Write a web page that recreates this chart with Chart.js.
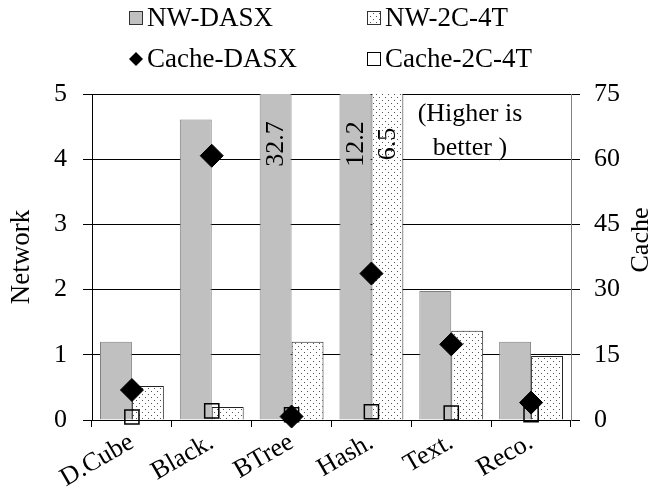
<!DOCTYPE html>
<html lang="en">
<head>
<meta charset="UTF-8" />
<title>Network and Cache</title>
<script src="https://cdn.jsdelivr.net/npm/chart.js"></script>
<style>
  body { margin: 0; background: #fff; }
  #wrap { width: 664px; height: 489px; }
</style>
</head>
<body>
<div id="wrap"><canvas id="chartNW" width="664" height="489"></canvas></div>
<script>
const categories = ["D.Cube", "Black.", "BTree", "Hash.", "Text.", "Reco."];
const nwDasx = [1.2, 4.61, 32.7, 12.2, 1.98, 1.2];
const nw2c4t = [0.52, 0.2, 1.2, 6.5, 1.37, 0.98];
const cacheDasx = [6.9, 60.8, 0.8, 33.7, 17.4, 4.0];
const cache2c4t = [0.7, 2.1, 1.2, 1.9, 1.6, 1.2];
const networkTicks = [0, 1, 2, 3, 4, 5];
const cacheTicks = [0, 15, 30, 45, 60, 75];
const noteLines = ["(Higher is", "better )"];

const FONT = "'Liberation Serif', 'Times New Roman', serif";

const canvas = document.getElementById("chartNW");
const ctx = canvas.getContext("2d");

// dotted fill for the 2C-4T bars
function makeDots() {
  const t = document.createElement("canvas");
  t.width = 6; t.height = 6;
  const g = t.getContext("2d");
  g.fillStyle = "#fff";
  g.fillRect(0, 0, 6, 6);
  g.fillStyle = "#555";
  g.fillRect(1, 1, 1, 1);
  g.fillRect(4, 4, 1, 1);
  return ctx.createPattern(t, "repeat");
}
const dots = makeDots();

// legend, clipped-bar labels, note and right axis title
const extras = {
  id: "extras",
  afterDraw(chart) {
    const c = chart.ctx;
    const area = chart.chartArea;
    const yNet = chart.scales.yNet;
    c.save();
    c.fillStyle = "#000";

    // values of bars cut off by the axis
    c.font = "26px " + FONT;
    c.textAlign = "center";
    c.textBaseline = "middle";
    [0, 1].forEach(di => {
      const meta = chart.getDatasetMeta(di);
      chart.data.datasets[di].data.forEach((v, i) => {
        if (v > yNet.max) {
          const bar = meta.data[i];
          c.save();
          c.translate(bar.x, area.top + 50);
          c.rotate(-Math.PI / 2);
          c.fillText(v.toFixed(1), 0, 1);
          c.restore();
        }
      });
    });

    // note
    c.fillText(noteLines[0], 470, 114);
    c.fillText(noteLines[1], 470, 148);

    // right title
    c.save();
    c.translate(641, 240);
    c.rotate(-Math.PI / 2);
    c.fillText("Cache", 0, 0);
    c.restore();

    // legend, two columns
    const colX = [129, 367];
    const rowY = [18, 59];
    c.font = "27px " + FONT;
    c.textAlign = "left";
    chart.data.datasets.forEach((ds, i) => {
      const x = colX[i % 2];
      const y = rowY[Math.floor(i / 2)];
      c.lineWidth = 1;
      if (ds.type === "bar") {
        c.fillStyle = ds.backgroundColor;
        c.fillRect(x, y - 7, 14, 14);
        c.strokeStyle = "#333";
        c.strokeRect(x + 0.5, y - 6.5, 13, 13);
      } else if (ds.pointStyle === "rectRot") {
        c.fillStyle = "#000";
        c.beginPath();
        c.moveTo(x + 7, y - 7);
        c.lineTo(x + 14, y);
        c.lineTo(x + 7, y + 7);
        c.lineTo(x, y);
        c.closePath();
        c.fill();
      } else {
        c.strokeStyle = "#000";
        c.strokeRect(x + 0.5, y - 6.5, 13, 13);
      }
      c.fillStyle = "#000";
      c.fillText(ds.label, x + 18, y + 1);
    });
    c.restore();
  }
};

new Chart(ctx, {
  data: {
    labels: categories,
    datasets: [
      {
        type: "bar", label: "NW-DASX", data: nwDasx, yAxisID: "yNet",
        backgroundColor: "#c0c0c0", borderColor: "#808080", borderWidth: 1,
        categoryPercentage: 0.8, barPercentage: 1.0, order: 1
      },
      {
        type: "bar", label: "NW-2C-4T", data: nw2c4t, yAxisID: "yNet",
        backgroundColor: dots, borderColor: "#222", borderWidth: 1,
        categoryPercentage: 0.8, barPercentage: 1.0, order: 1
      },
      {
        type: "line", label: "Cache-DASX", data: cacheDasx, yAxisID: "yCache",
        showLine: false, pointStyle: "rectRot", pointRadius: 11.5, pointHoverRadius: 11.5,
        backgroundColor: "#000", borderColor: "#000", pointBorderWidth: 1,
        clip: false, order: 0
      },
      {
        type: "line", label: "Cache-2C-4T", data: cache2c4t, yAxisID: "yCache",
        showLine: false, pointStyle: "rect", pointRadius: 10, pointHoverRadius: 10,
        backgroundColor: "rgba(0,0,0,0)", borderColor: "#000", pointBorderWidth: 1.5,
        clip: false, order: 0
      }
    ]
  },
  options: {
    responsive: false,
    animation: false,
    layout: { padding: { top: 94, left: 0, right: 0, bottom: 0 } },
    plugins: {
      legend: { display: false },
      tooltip: { enabled: false }
    },
    scales: {
      x: {
        offset: true,
        grid: { offset: true, drawOnChartArea: false, tickLength: 7, color: "#000" },
        border: { color: "#000" },
        ticks: {
          autoSkip: false, minRotation: 30, maxRotation: 30, padding: 0,
          color: "#000", font: { family: FONT, size: 26 }
        },
        afterFit(s) { s.height = 69; }
      },
      yNet: {
        position: "left",
        min: networkTicks[0],
        max: networkTicks[networkTicks.length - 1],
        grid: { color: "#000", tickLength: 9 },
        border: { color: "#000" },
        ticks: {
          stepSize: networkTicks[1] - networkTicks[0], padding: 16,
          color: "#000", font: { family: FONT, size: 26 }
        },
        title: {
          display: true, text: "Network", color: "#000",
          font: { family: FONT, size: 27 }, padding: { top: 6, bottom: 0 }
        },
        afterFit(s) { s.width = 92; }
      },
      yCache: {
        position: "right",
        min: cacheTicks[0],
        max: cacheTicks[cacheTicks.length - 1],
        grid: { drawOnChartArea: false, color: "#000", tickLength: 9 },
        border: { color: "#808080" },
        ticks: {
          stepSize: cacheTicks[1] - cacheTicks[0], padding: 14,
          color: "#000", font: { family: FONT, size: 26 }
        },
        afterFit(s) { s.width = 93; }
      }
    }
  },
  plugins: [extras]
});
</script>
</body>
</html>
